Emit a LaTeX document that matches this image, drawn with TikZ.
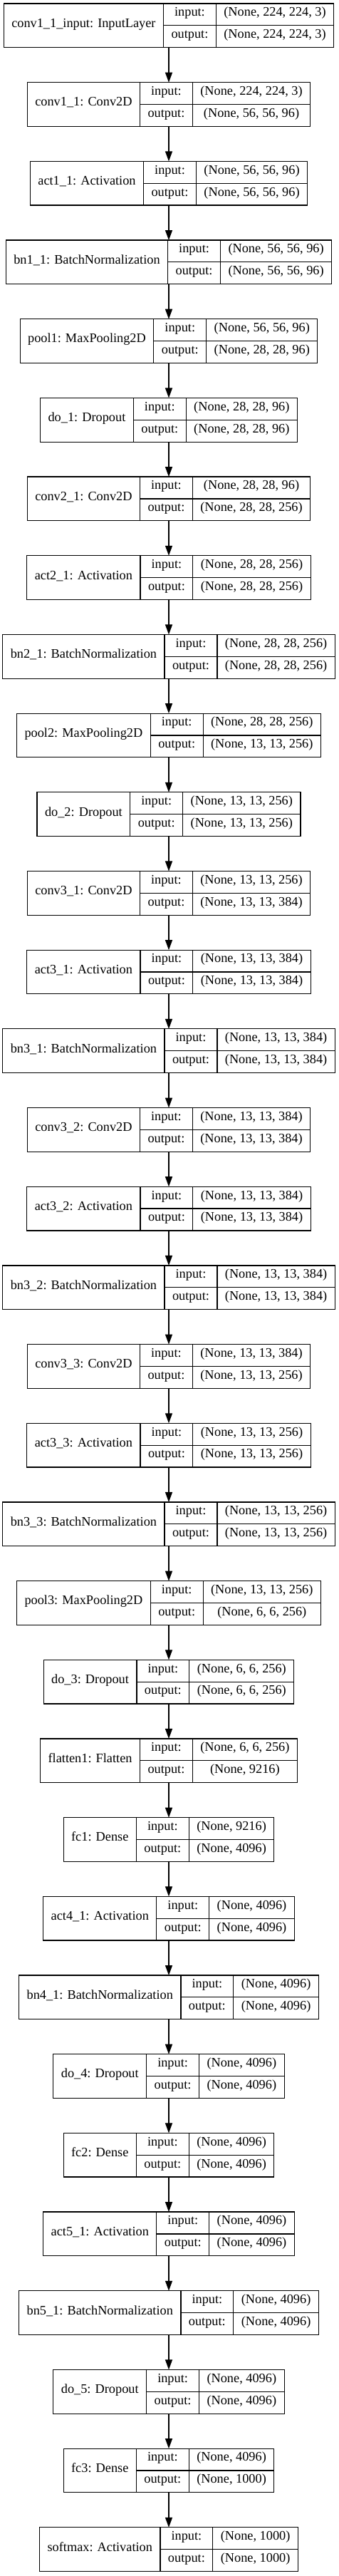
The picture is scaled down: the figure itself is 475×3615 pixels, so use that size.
\documentclass[tikz,border=0pt]{standalone}
\usepackage{fontspec}
\setmainfont{Liberation Serif}
\usetikzlibrary{arrows.meta}

\newdimen\cellA \newdimen\cellB \newdimen\cellC \newdimen\cellT
\newcommand{\layerfont}{\fontsize{18.3pt}{22pt}\selectfont}

\tikzset{
  layer/.style={draw, line width=1.2pt, inner sep=0pt, outer sep=0pt, minimum height=61.7pt},
  cell/.style={inner sep=0pt, font=\layerfont, text height=0.68em, text depth=0.2em},
  flow/.style={-{Triangle[length=14pt,width=10pt]}, line width=1.2pt}
}

% one keras layer: #1 index, #2 name, #3 input shape, #4 output shape
\newcommand{\layerbox}[4]{%
  \pgfinterruptpicture
    \settowidth{\cellA}{\layerfont #2}\global\cellA=\cellA
    \settowidth{\cellB}{\layerfont output:}\global\cellB=\cellB
    \settowidth{\cellC}{\layerfont #3}\global\cellC=\cellC
    \settowidth{\cellT}{\layerfont #4}\global\cellT=\cellT
  \endpgfinterruptpicture
  \ifdim\cellT>\cellC \cellC=\cellT\fi
  \pgfmathsetmacro{\wa}{\cellA+22}%
  \pgfmathsetmacro{\wb}{\cellB+22}%
  \pgfmathsetmacro{\wc}{\cellC+22}%
  \pgfmathsetmacro{\wt}{\wa+\wb+\wc}%
  \pgfmathsetmacro{\yc}{-35.85-(#1-1)*110.68}%
  \pgfmathsetmacro{\yt}{\yc+15.43}%
  \pgfmathsetmacro{\yb}{\yc-15.43}%
  \pgfmathsetmacro{\xa}{237-\wt/2}%
  \pgfmathsetmacro{\xb}{\xa+\wa}%
  \pgfmathsetmacro{\xc}{\xb+\wb}%
  \pgfmathsetmacro{\xn}{(\xa+\xb)/2}%
  \pgfmathsetmacro{\xm}{(\xb+\xc)/2}%
  \pgfmathsetmacro{\xv}{\xc+\wc/2}%
  \node[layer, minimum width=\wt pt] (l#1) at (237pt,\yc pt) {};
  \draw[line width=1.2pt] (\xb pt,\yc pt) ++(0,30.85pt) -- ++(0,-61.7pt)
    (\xc pt,\yc pt) ++(0,30.85pt) -- ++(0,-61.7pt)
    (\xb pt,\yc pt) -- (l#1.east);
  \node[cell] (n#1) at (\xn pt,\yc pt) {#2};
  \node[cell] (i#1) at (\xm pt,\yt pt) {input:};
  \node[cell] (o#1) at (\xm pt,\yb pt) {output:};
  \node[cell] (iv#1) at (\xv pt,\yt pt) {#3};
  \node[cell] (ov#1) at (\xv pt,\yb pt) {#4};
}

\begin{document}
\begin{tikzpicture}
  \useasboundingbox (0,0) rectangle (475pt,-3615pt);

  % block 1
  \layerbox{1}{conv1\_1\_input: InputLayer}{(None, 224, 224, 3)}{(None, 224, 224, 3)}
  \layerbox{2}{conv1\_1: Conv2D}{(None, 224, 224, 3)}{(None, 56, 56, 96)}
  \layerbox{3}{act1\_1: Activation}{(None, 56, 56, 96)}{(None, 56, 56, 96)}
  \layerbox{4}{bn1\_1: BatchNormalization}{(None, 56, 56, 96)}{(None, 56, 56, 96)}
  \layerbox{5}{pool1: MaxPooling2D}{(None, 56, 56, 96)}{(None, 28, 28, 96)}
  \layerbox{6}{do\_1: Dropout}{(None, 28, 28, 96)}{(None, 28, 28, 96)}
  % block 2
  \layerbox{7}{conv2\_1: Conv2D}{(None, 28, 28, 96)}{(None, 28, 28, 256)}
  \layerbox{8}{act2\_1: Activation}{(None, 28, 28, 256)}{(None, 28, 28, 256)}
  \layerbox{9}{bn2\_1: BatchNormalization}{(None, 28, 28, 256)}{(None, 28, 28, 256)}
  \layerbox{10}{pool2: MaxPooling2D}{(None, 28, 28, 256)}{(None, 13, 13, 256)}
  \layerbox{11}{do\_2: Dropout}{(None, 13, 13, 256)}{(None, 13, 13, 256)}
  % block 3
  \layerbox{12}{conv3\_1: Conv2D}{(None, 13, 13, 256)}{(None, 13, 13, 384)}
  \layerbox{13}{act3\_1: Activation}{(None, 13, 13, 384)}{(None, 13, 13, 384)}
  \layerbox{14}{bn3\_1: BatchNormalization}{(None, 13, 13, 384)}{(None, 13, 13, 384)}
  \layerbox{15}{conv3\_2: Conv2D}{(None, 13, 13, 384)}{(None, 13, 13, 384)}
  \layerbox{16}{act3\_2: Activation}{(None, 13, 13, 384)}{(None, 13, 13, 384)}
  \layerbox{17}{bn3\_2: BatchNormalization}{(None, 13, 13, 384)}{(None, 13, 13, 384)}
  \layerbox{18}{conv3\_3: Conv2D}{(None, 13, 13, 384)}{(None, 13, 13, 256)}
  \layerbox{19}{act3\_3: Activation}{(None, 13, 13, 256)}{(None, 13, 13, 256)}
  \layerbox{20}{bn3\_3: BatchNormalization}{(None, 13, 13, 256)}{(None, 13, 13, 256)}
  \layerbox{21}{pool3: MaxPooling2D}{(None, 13, 13, 256)}{(None, 6, 6, 256)}
  \layerbox{22}{do\_3: Dropout}{(None, 6, 6, 256)}{(None, 6, 6, 256)}
  % dense part
  \layerbox{23}{flatten1: Flatten}{(None, 6, 6, 256)}{(None, 9216)}
  \layerbox{24}{fc1: Dense}{(None, 9216)}{(None, 4096)}
  \layerbox{25}{act4\_1: Activation}{(None, 4096)}{(None, 4096)}
  \layerbox{26}{bn4\_1: BatchNormalization}{(None, 4096)}{(None, 4096)}
  \layerbox{27}{do\_4: Dropout}{(None, 4096)}{(None, 4096)}
  \layerbox{28}{fc2: Dense}{(None, 4096)}{(None, 4096)}
  \layerbox{29}{act5\_1: Activation}{(None, 4096)}{(None, 4096)}
  \layerbox{30}{bn5\_1: BatchNormalization}{(None, 4096)}{(None, 4096)}
  \layerbox{31}{do\_5: Dropout}{(None, 4096)}{(None, 4096)}
  \layerbox{32}{fc3: Dense}{(None, 4096)}{(None, 1000)}
  \layerbox{33}{softmax: Activation}{(None, 1000)}{(None, 1000)}

  % arrows
  \foreach \i [evaluate=\i as \j using int(\i+1)] in {1,...,32}
    \draw[flow] (l\i.south) -- (l\j.north);
\end{tikzpicture}
\end{document}
